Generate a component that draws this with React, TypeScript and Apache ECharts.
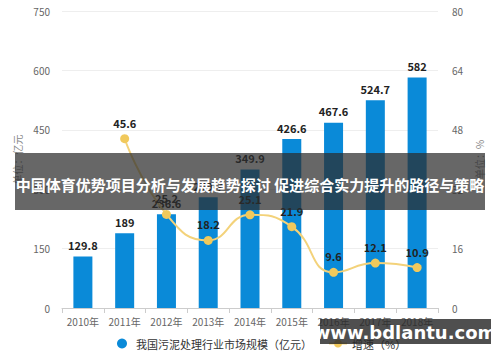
import React, { useEffect, useRef } from "react";
import * as echarts from "echarts";

const categories = ["2010年", "2011年", "2012年", "2013年", "2014年", "2015年", "2016年", "2017年", "2018年"];
const marketSize = [129.8, 189, 236.6, 279.7, 349.9, 426.6, 467.6, 524.7, 582];
const growthRate: (number | null)[] = [null, 45.6, 25.2, 18.2, 25.1, 21.9, 9.6, 12.1, 10.9];
const barName = "我国污泥处理行业市场规模（亿元）";
const lineName = "增速（%）";
const overlayTitle = "中国体育优势项目分析与发展趋势探讨 促进综合实力提升的路径与策略";
const watermark = "www.bdlantu.com";

export default function App() {
  const ref = useRef<HTMLDivElement>(null);
  useEffect(() => {
    if (!ref.current) return;
    const chart = echarts.init(ref.current, undefined, { renderer: "svg" });
    const font = "'Noto Sans CJK SC', 'Noto Sans', sans-serif";
    chart.setOption({
      animation: false,
      textStyle: { fontFamily: font },
      grid: { left: 62, right: 62, top: 11, bottom: 54 },
      legend: {
        bottom: 8,
        left: 112,
        itemGap: 16,
        itemWidth: 18,
        itemHeight: 10,
        textStyle: { color: "#333", fontSize: 11, fontFamily: font },
        data: [
          { name: barName, icon: "circle" },
          { name: lineName },
        ],
      },
      xAxis: {
        type: "category",
        data: categories,
        axisLine: { lineStyle: { color: "#ccc" } },
        axisTick: { show: true, lineStyle: { color: "#ccc" } },
        axisLabel: { color: "#666", fontSize: 10, margin: 8, interval: 0 },
      },
      yAxis: [
        {
          type: "value",
          min: 0,
          max: 750,
          interval: 150,
          name: "单位：亿元",
          nameLocation: "middle",
          nameGap: 36,
          nameTextStyle: { color: "#888", fontSize: 10 },
          axisLine: { show: false },
          axisTick: { show: false },
          axisLabel: { color: "#666", fontSize: 10, margin: 12 },
          splitLine: { lineStyle: { color: "#eee" } },
        },
        {
          type: "value",
          min: 0,
          max: 80,
          interval: 16,
          name: "单位：%",
          nameLocation: "middle",
          nameGap: 36,
          nameTextStyle: { color: "#888", fontSize: 10 },
          axisLine: { show: false },
          axisTick: { show: false },
          axisLabel: { color: "#666", fontSize: 10, margin: 14 },
          splitLine: { show: false },
        },
      ],
      series: [
        {
          name: barName,
          type: "bar",
          data: marketSize,
          barWidth: 19,
          itemStyle: { color: "#0a8ad8" },
          label: { show: true, position: "top", color: "#222", fontSize: 11, fontWeight: "bold", distance: 6 },
        },
        {
          name: lineName,
          type: "line",
          yAxisIndex: 1,
          data: growthRate,
          smooth: true,
          symbol: "circle",
          symbolSize: 9,
          lineStyle: { color: "#f3d27a", width: 2 },
          itemStyle: { color: "#f1c95c" },
          label: { show: true, position: "top", color: "#222", fontSize: 11, fontWeight: "bold", distance: 6 },
        },
      ],
      graphic: [
        {
          type: "rect",
          z: 100,
          shape: { x: 15, y: 153, width: 470, height: 57 },
          style: { fill: "rgba(45,45,45,0.72)" },
        },
        {
          type: "text",
          z: 101,
          x: 250,
          y: 184,
          style: {
            text: overlayTitle,
            fill: "#fff",
            font: "bold 15px 'Noto Sans CJK SC', sans-serif",
            textAlign: "center",
            textVerticalAlign: "middle",
          },
        },
        {
          type: "rect",
          z: 100,
          shape: { x: 320, y: 319, width: 171, height: 25 },
          style: { fill: "rgba(40,40,40,0.82)" },
        },
        {
          type: "text",
          z: 101,
          x: 405,
          y: 332,
          style: {
            text: watermark,
            fill: "#fff",
            font: "bold 18px 'DejaVu Sans', sans-serif",
            textAlign: "center",
            textVerticalAlign: "middle",
          },
        },
      ],
    });
    return () => chart.dispose();
  }, []);
  return <div ref={ref} style={{ width: 500, height: 362, position: "absolute", left: 0, top: 0 }} />;
}
